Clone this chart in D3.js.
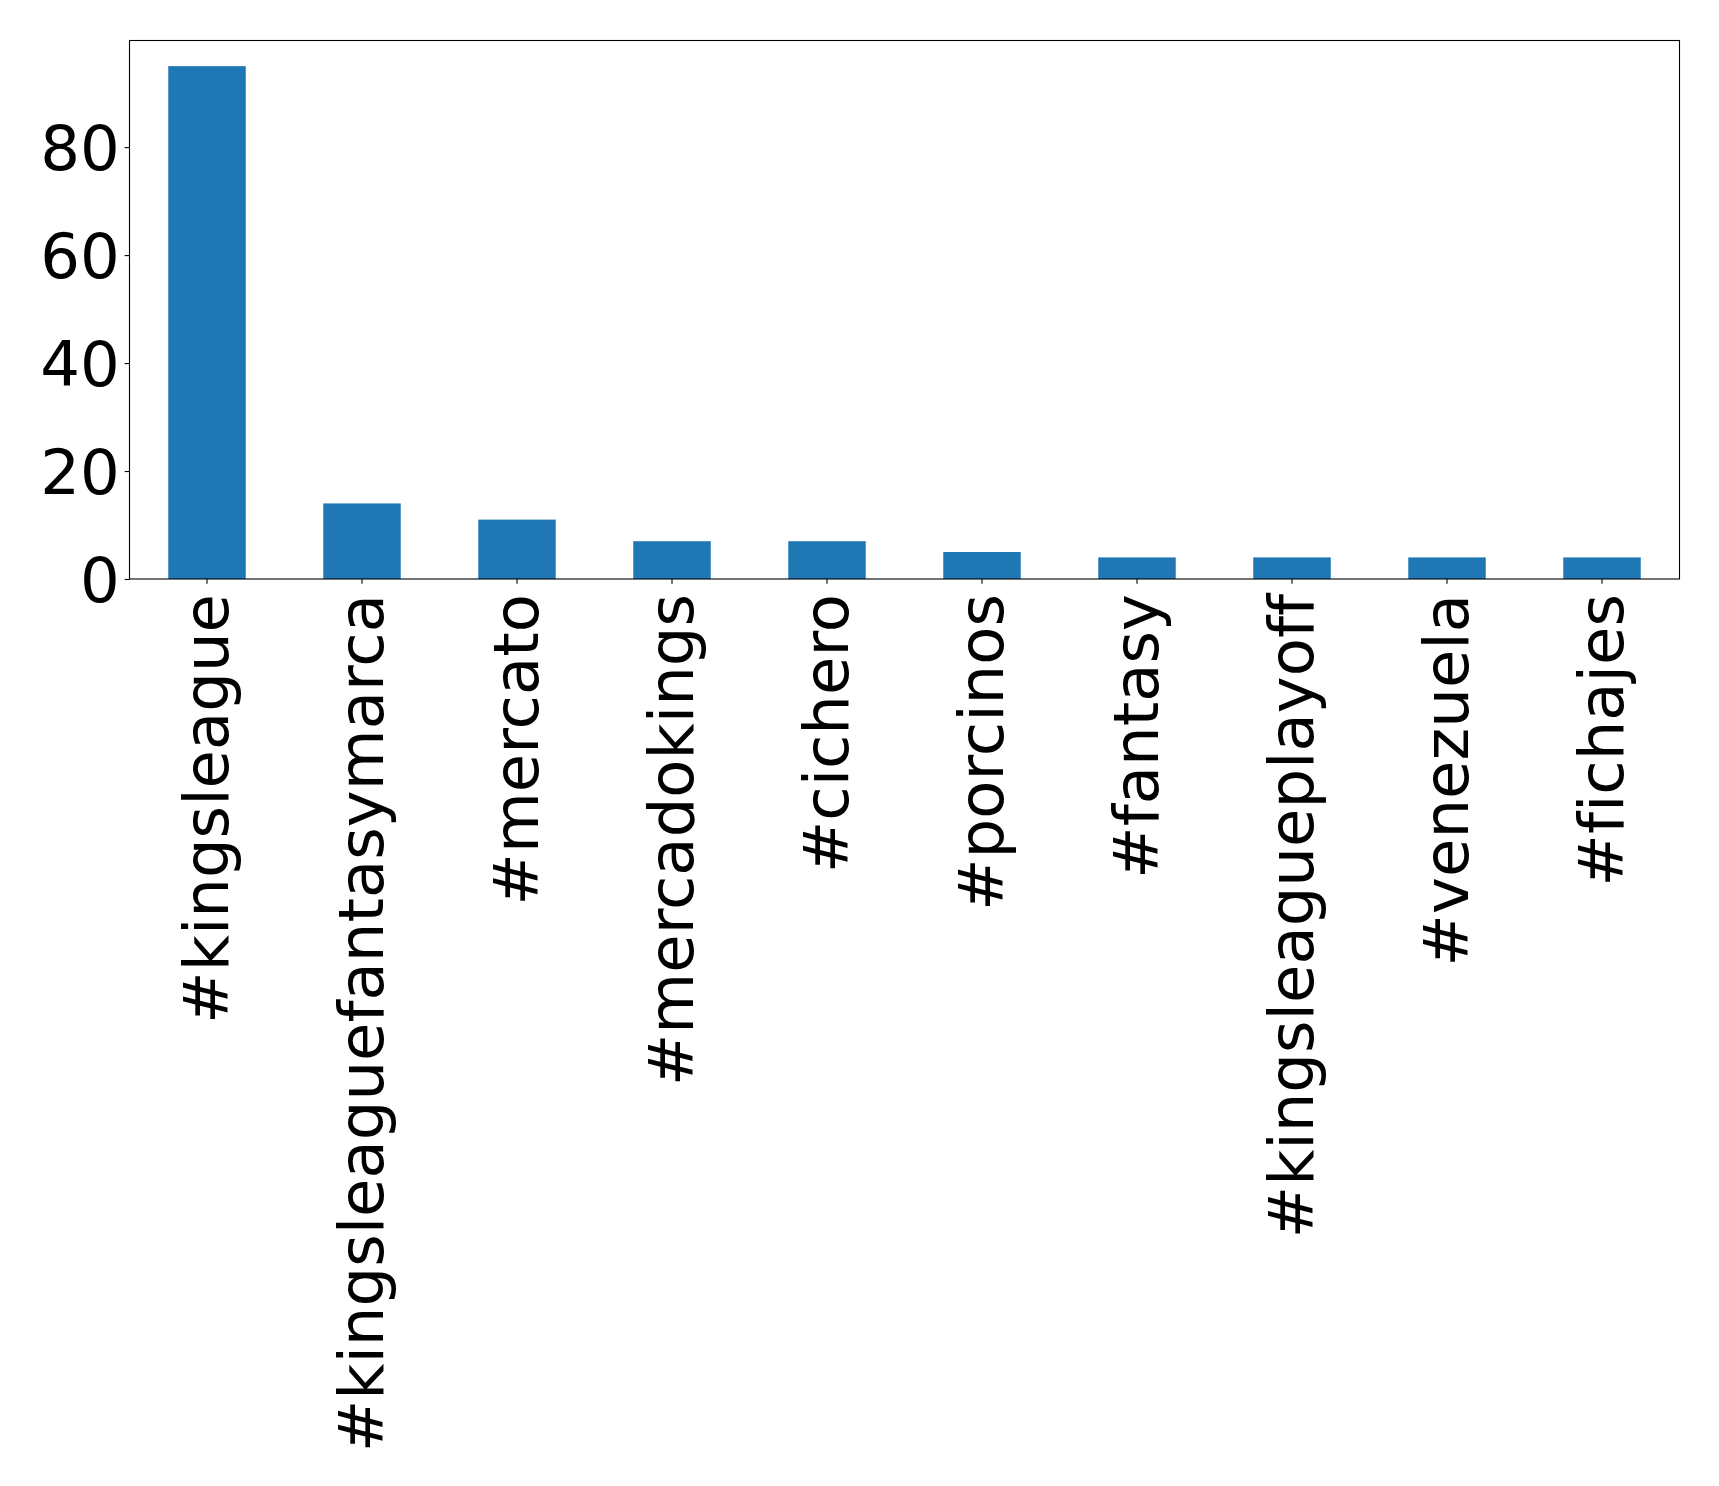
<!DOCTYPE html>
<html>
<head>
<meta charset="utf-8">
<script src="https://cdn.jsdelivr.net/npm/d3@7"></script>
<style>
  html, body { margin: 0; padding: 0; background: #fff; }
  svg { display: block; }
  text { font-family: "DejaVu Sans", sans-serif; font-variant-ligatures: none; font-feature-settings: "liga" 0, "clig" 0; }
</style>
</head>
<body>
<svg id="chart" width="1719" height="1486"></svg>
<script>
const categories = ["#kingsleague", "#kingsleaguefantasymarca", "#mercato", "#mercadokings", "#cichero", "#porcinos", "#fantasy", "#kingsleagueplayoff", "#venezuela", "#fichajes"];
const values = [95, 14, 11, 7, 7, 5, 4, 4, 4, 4];
const yTicks = [0, 20, 40, 60, 80];

const plotLeft = 129.5, plotRight = 1679.5, plotTop = 40.5, plotBottom = 579;
const fontSize = 62.5;
const svg = d3.select("#chart");

const x = d3.scaleBand().domain(categories).range([plotLeft, plotRight]).paddingInner(0.5).paddingOuter(0.25);
const y = d3.scaleLinear().domain([0, d3.max(values) * 1.05]).range([plotBottom, plotTop]);

svg.append("g").selectAll("rect").data(categories).join("rect")
  .attr("x", d => x(d))
  .attr("width", x.bandwidth())
  .attr("y", (d, i) => y(values[i]))
  .attr("height", (d, i) => y(0) - y(values[i]))
  .attr("fill", "#1f77b4");

// frame
svg.append("rect").attr("x", plotLeft).attr("y", plotTop)
  .attr("width", plotRight - plotLeft).attr("height", plotBottom - plotTop)
  .attr("fill", "none").attr("stroke", "#000").attr("stroke-width", 1.1);

const yAxis = svg.append("g").attr("transform", `translate(${plotLeft},0)`)
  .call(d3.axisLeft(y).tickValues(yTicks).tickSize(4.86).tickPadding(4.86).tickSizeOuter(0));
yAxis.select(".domain").remove();
yAxis.selectAll("line").attr("stroke", "#000").attr("stroke-width", 1.1);
yAxis.selectAll("text").attr("font-size", fontSize).attr("fill", "#000")
  .attr("font-family", "DejaVu Sans").attr("dy", "0.36em");

const xAxis = svg.append("g").attr("transform", `translate(0,${plotBottom})`)
  .call(d3.axisBottom(x).tickSize(4.86).tickPadding(4.86).tickSizeOuter(0));
xAxis.select(".domain").remove();
xAxis.selectAll("line").attr("stroke", "#000").attr("stroke-width", 1.1);
xAxis.selectAll("text")
  .attr("font-size", fontSize).attr("fill", "#000").attr("font-family", "DejaVu Sans")
  .attr("text-anchor", "end")
  .attr("transform", "rotate(-90)")
  .attr("x", -15).attr("y", 0).attr("dy", "0.33em");
</script>
</body>
</html>
